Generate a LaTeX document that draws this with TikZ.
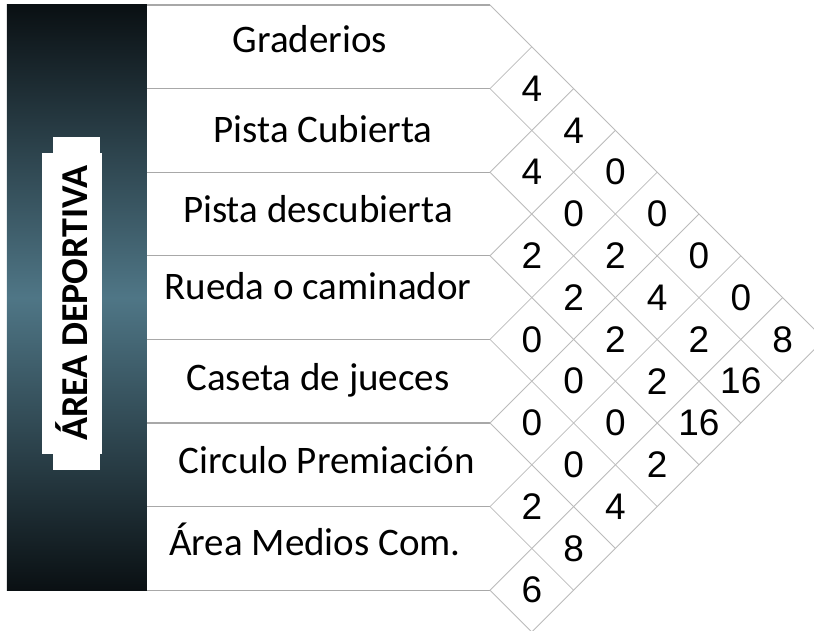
\documentclass[tikz,border=0pt]{standalone}
\usepackage{fontspec}
\setmainfont{Carlito}
\newfontfamily\numfont{Liberation Sans}
\usetikzlibrary{calc}
\definecolor{barblack}{HTML}{0A1013}
\definecolor{barteal}{HTML}{4F7686}
\definecolor{rowgray}{HTML}{A8A8A8}
\definecolor{gridgray}{HTML}{BBBBBB}

\begin{document}
\begin{tikzpicture}[x=41.8pt,y=41.8pt]
	\tikzset{rowlabel/.style = {anchor=base,inner sep=0pt,font=\fontsize{39}{47}\selectfont}}
	\tikzset{cell/.style = {inner sep=0pt,font=\numfont\fontsize{37}{44}\selectfont}}
	\tikzset{rowline/.style = {draw=rowgray,line width=1.2pt}}
	\tikzset{gridline/.style = {draw=gridgray,line width=0.8pt}}
	\useasboundingbox (-11.7225,0.1196) rectangle (7.7512,-14.9761);
	\clip (-11.7225,0.1196) rectangle (7.7512,-14.9761);

	% side bar
	\fill[top color=barblack,bottom color=barblack,middle color=barteal] (-11.555,0) rectangle (-8.206,-14);
	\fill[white] (-10.455,-3.158) rectangle (-9.330,-11.124);
	\fill[white] (-10.718,-3.541) rectangle (-9.282,-10.742);
	\node[rotate=90,anchor=base,inner sep=0pt,font=\bfseries\fontsize{38}{46}\selectfont] (area) at (-9.641,-7.129) {ÁREA DEPORTIVA};

	% points
	\coordinate (r0) at (-8.206,0);
	\coordinate (r1) at (-8.206,-2);
	\coordinate (r2) at (-8.206,-4);
	\coordinate (r3) at (-8.206,-6);
	\coordinate (r4) at (-8.206,-8);
	\coordinate (r5) at (-8.206,-10);
	\coordinate (r6) at (-8.206,-12);
	\coordinate (r7) at (-8.206,-14);
	\coordinate (l0) at (0,0);
	\coordinate (l1) at (0,-2);
	\coordinate (l2) at (0,-4);
	\coordinate (l3) at (0,-6);
	\coordinate (l4) at (0,-8);
	\coordinate (l5) at (0,-10);
	\coordinate (l6) at (0,-12);
	\coordinate (l7) at (0,-14);
	\coordinate (t1) at (1,-1);
	\coordinate (t2) at (2,-2);
	\coordinate (t3) at (3,-3);
	\coordinate (t4) at (4,-4);
	\coordinate (t5) at (5,-5);
	\coordinate (t6) at (6,-6);
	\coordinate (t7) at (7,-7);
	\coordinate (t8) at (8,-8);
	\coordinate (b0) at (8,-8);
	\coordinate (b1) at (7,-9);
	\coordinate (b2) at (6,-10);
	\coordinate (b3) at (5,-11);
	\coordinate (b4) at (4,-12);
	\coordinate (b5) at (3,-13);
	\coordinate (b6) at (2,-14);
	\coordinate (b7) at (1,-15);

	% rows
	\draw[rowline] (r0) -- (l0);
	\draw[rowline] (r1) -- (l1);
	\draw[rowline] (r2) -- (l2);
	\draw[rowline] (r3) -- (l3);
	\draw[rowline] (r4) -- (l4);
	\draw[rowline] (r5) -- (l5);
	\draw[rowline] (r6) -- (l6);
	\draw[rowline] (r7) -- (l7);
	\node[rowlabel] (graderios) at (-4.306,-1.148) {Graderios};
	\node[rowlabel] (cubierta) at (-3.995,-3.278) {Pista Cubierta};
	\node[rowlabel] (descubierta) at (-4.115,-5.215) {Pista descubierta};
	\node[rowlabel] (rueda) at (-4.115,-7.057) {Rueda o caminador};
	\node[rowlabel] (caseta) at (-4.115,-9.234) {Caseta de jueces};
	\node[rowlabel] (circulo) at (-3.900,-11.220) {Circulo Premiación};
	\node[rowlabel] (medios) at (-4.187,-13.180) {Área Medios Com.};

	% grid
	\draw[gridline] (l0) -- (b0);
	\draw[gridline] (l1) -- (b1);
	\draw[gridline] (l2) -- (b2);
	\draw[gridline] (l3) -- (b3);
	\draw[gridline] (l4) -- (b4);
	\draw[gridline] (l5) -- (b5);
	\draw[gridline] (l6) -- (b6);
	\draw[gridline] (l7) -- (b7);
	\draw[gridline] (l1) -- (t1);
	\draw[gridline] (l2) -- (t2);
	\draw[gridline] (l3) -- (t3);
	\draw[gridline] (l4) -- (t4);
	\draw[gridline] (l5) -- (t5);
	\draw[gridline] (l6) -- (t6);
	\draw[gridline] (l7) -- (t7);
	\draw[gridline] (b7) -- (t8);

	% values
	\node[cell] (c12) at (1,-2) {4};
	\node[cell] (c13) at (2,-3) {4};
	\node[cell] (c23) at (1,-4) {4};
	\node[cell] (c14) at (3,-4) {0};
	\node[cell] (c24) at (2,-5) {0};
	\node[cell] (c15) at (4,-5) {0};
	\node[cell] (c34) at (1,-6) {2};
	\node[cell] (c25) at (3,-6) {2};
	\node[cell] (c16) at (5,-6) {0};
	\node[cell] (c35) at (2,-7) {2};
	\node[cell] (c26) at (4,-7) {4};
	\node[cell] (c17) at (6,-7) {0};
	\node[cell] (c45) at (1,-8) {0};
	\node[cell] (c36) at (3,-8) {2};
	\node[cell] (c27) at (5,-8) {2};
	\node[cell] (c18) at (7,-8) {8};
	\node[cell] (c46) at (2,-9) {0};
	\node[cell] (c37) at (4,-9) {2};
	\node[cell] (c28) at (6,-9) {16};
	\node[cell] (c56) at (1,-10) {0};
	\node[cell] (c47) at (3,-10) {0};
	\node[cell] (c38) at (5,-10) {16};
	\node[cell] (c57) at (2,-11) {0};
	\node[cell] (c48) at (4,-11) {2};
	\node[cell] (c67) at (1,-12) {2};
	\node[cell] (c58) at (3,-12) {4};
	\node[cell] (c68) at (2,-13) {8};
	\node[cell] (c78) at (1,-14) {6};
\end{tikzpicture}
\end{document}
